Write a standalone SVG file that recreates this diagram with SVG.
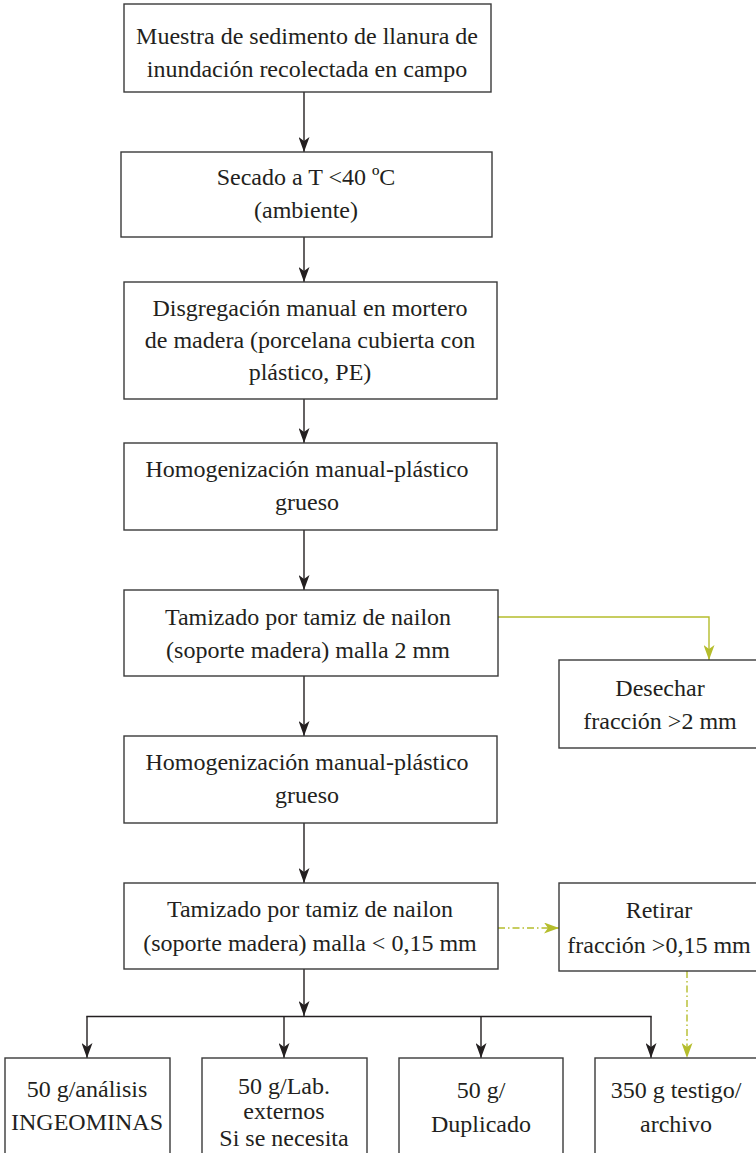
<svg xmlns="http://www.w3.org/2000/svg" width="756" height="1153" viewBox="0 0 756 1153">
<defs>
<style>
.box{fill:#fff;stroke:#3a3a3a;stroke-width:1.4}
.t{font-family:"Liberation Serif","Times New Roman",serif;font-size:24px;fill:#231f20;text-anchor:middle}
.c{fill:none;stroke:#231f20;stroke-width:1.4}
.g{fill:none;stroke:#b5bd2c;stroke-width:1.4}
.gd{fill:none;stroke:#b5bd2c;stroke-width:1.4;stroke-dasharray:7 3 1.5 3}
</style>
<marker id="ab" markerUnits="userSpaceOnUse" markerWidth="15" markerHeight="11" refX="15" refY="5.5" orient="auto" viewBox="0 0 15 11">
<path d="M0,0 L15,5.5 L0,11 L4,5.5 Z" fill="#231f20"/>
</marker>
<marker id="ag" markerUnits="userSpaceOnUse" markerWidth="15" markerHeight="11" refX="15" refY="5.5" orient="auto" viewBox="0 0 15 11">
<path d="M0,0 L15,5.5 L0,11 L4,5.5 Z" fill="#b5bd2c"/>
</marker>
</defs>
<rect width="756" height="1153" fill="#fff"/>
<g id="connectors">
<line class="c" x1="304" y1="92" x2="304" y2="152" marker-end="url(#ab)"/>
<line class="c" x1="304" y1="237" x2="304" y2="282" marker-end="url(#ab)"/>
<line class="c" x1="304" y1="399" x2="304" y2="443" marker-end="url(#ab)"/>
<line class="c" x1="304" y1="530" x2="304" y2="590" marker-end="url(#ab)"/>
<line class="c" x1="304" y1="676" x2="304" y2="736" marker-end="url(#ab)"/>
<line class="c" x1="304" y1="823" x2="304" y2="883" marker-end="url(#ab)"/>
<line class="c" x1="304" y1="969" x2="304" y2="1016" marker-end="url(#ab)"/>
<line class="c" x1="86.3" y1="1016.5" x2="651.7" y2="1016.5"/>
<line class="c" x1="87" y1="1016.5" x2="87" y2="1058" marker-end="url(#ab)"/>
<line class="c" x1="284" y1="1016.5" x2="284" y2="1058" marker-end="url(#ab)"/>
<line class="c" x1="481" y1="1016.5" x2="481" y2="1058" marker-end="url(#ab)"/>
<line class="c" x1="651" y1="1016.5" x2="651" y2="1058" marker-end="url(#ab)"/>
<polyline class="g" points="498,617 709,617 709,660" marker-end="url(#ag)"/>
<line class="gd" x1="498" y1="928" x2="559" y2="928" marker-end="url(#ag)"/>
<line class="gd" x1="687" y1="971" x2="687" y2="1058" marker-end="url(#ag)"/>
</g>
<g id="n1"><rect class="box" x="124" y="4" width="367" height="88"/>
<text class="t" x="307" y="44">Muestra de sedimento de llanura de</text>
<text class="t" x="307" y="77">inundación recolectada en campo</text></g>
<g id="n2"><rect class="box" x="121" y="152" width="371" height="85"/>
<text class="t" x="306" y="185">Secado a T &lt;40 ºC</text>
<text class="t" x="306" y="218">(ambiente)</text></g>
<g id="n3"><rect class="box" x="124" y="282" width="373" height="117"/>
<text class="t" x="310" y="316">Disgregación manual en mortero</text>
<text class="t" x="310" y="348">de madera (porcelana cubierta con</text>
<text class="t" x="310" y="380">plástico, PE)</text></g>
<g id="n4"><rect class="box" x="124" y="443" width="373" height="87"/>
<text class="t" x="307" y="477">Homogenización manual-plástico</text>
<text class="t" x="307" y="510">grueso</text></g>
<g id="n5"><rect class="box" x="124" y="590" width="374" height="86"/>
<text class="t" x="308" y="625">Tamizado por tamiz de nailon</text>
<text class="t" x="308" y="658">(soporte madera) malla 2 mm</text></g>
<g id="n6"><rect class="box" x="124" y="736" width="373" height="87"/>
<text class="t" x="307" y="770">Homogenización manual-plástico</text>
<text class="t" x="307" y="803">grueso</text></g>
<g id="n7"><rect class="box" x="124" y="883" width="374" height="86"/>
<text class="t" x="310" y="917">Tamizado por tamiz de nailon</text>
<text class="t" x="310" y="951">(soporte madera) malla &lt; 0,15 mm</text></g>
<g id="n8"><rect class="box" x="559" y="660" width="204" height="88"/>
<text class="t" x="660" y="696">Desechar</text>
<text class="t" x="660" y="729">fracción &gt;2 mm</text></g>
<g id="n9"><rect class="box" x="559" y="883" width="204" height="88"/>
<text class="t" x="659" y="918">Retirar</text>
<text class="t" x="659" y="953">fracción &gt;0,15 mm</text></g>
<g id="n10"><rect class="box" x="5" y="1058" width="165" height="110"/>
<text class="t" x="87" y="1097">50 g/análisis</text>
<text class="t" x="87" y="1130">INGEOMINAS</text></g>
<g id="n11"><rect class="box" x="202" y="1058" width="165" height="110"/>
<text class="t" x="284" y="1094">50 g/Lab.</text>
<text class="t" x="284" y="1119">externos</text>
<text class="t" x="284" y="1146">Si se necesita</text></g>
<g id="n12"><rect class="box" x="399" y="1058" width="164" height="110"/>
<text class="t" x="481" y="1098">50 g/</text>
<text class="t" x="481" y="1132">Duplicado</text></g>
<g id="n13"><rect class="box" x="595" y="1058" width="165" height="110"/>
<text class="t" x="676" y="1098">350 g testigo/</text>
<text class="t" x="676" y="1132">archivo</text></g>
</svg>
